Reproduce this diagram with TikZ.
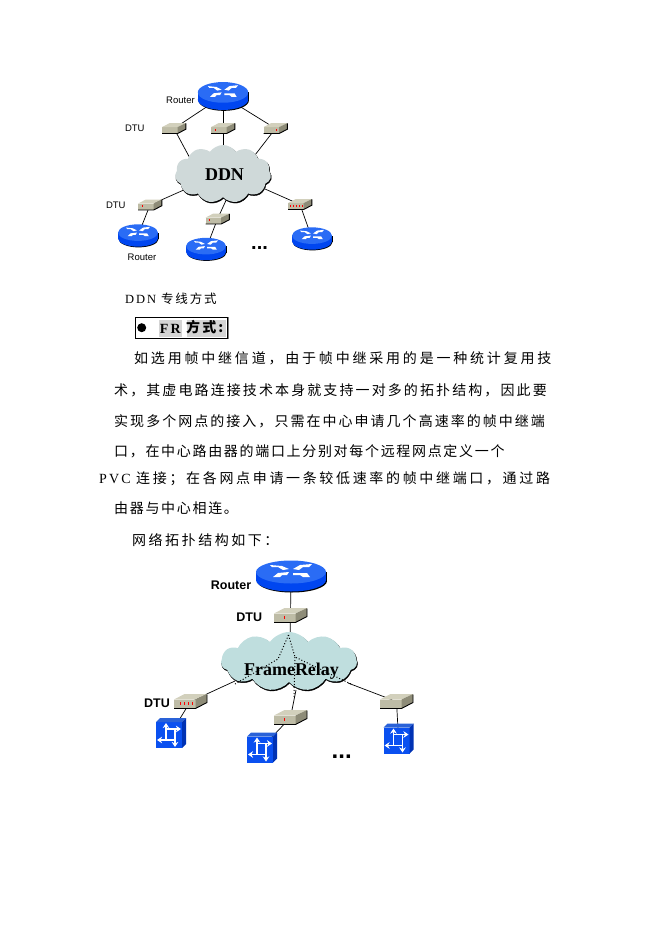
\documentclass[tikz,border=0pt]{standalone}
\usepackage{fontspec}
\setmainfont{Liberation Serif}
\setsansfont{Liberation Sans}
\newfontfamily\cjk[LetterSpace=15]{Noto Sans CJK SC}
\newfontfamily\spaced[LetterSpace=15]{Liberation Serif}
\usetikzlibrary{positioning, shapes.symbols, shadows, arrows.meta}
\newcommand{\dou}{^^^^ff0c}
\newcommand{\fen}{^^^^ff1b}
\newcommand{\mao}{^^^^ff1a}
\definecolor{routertop}{HTML}{2A6CF5}
\definecolor{routerside}{HTML}{0046F0}
\definecolor{dtutop}{HTML}{D2D0BC}
\definecolor{dtufront}{HTML}{BEBCA6}
\definecolor{dtuside}{HTML}{8E8C78}
\definecolor{ddncloud}{HTML}{CFD9D9}
\definecolor{frcloud}{HTML}{BFDEDE}
\definecolor{switchfront}{HTML}{0A50F0}
\definecolor{switchtop}{HTML}{2A62D8}
\definecolor{switchside}{HTML}{0032B4}
\tikzset{
	device/.style={inner sep=0pt,minimum size=8pt},
	wire/.style={black,line width=0.7pt},
	netcloud/.style={cloud,cloud puffs=11,cloud puff arc=110,cloud ignores aspect,inner sep=0pt,
		copy shadow={shadow xshift=0.6pt,shadow yshift=-1.2pt,fill=black,draw=black}},
	small/.style={font=\sffamily\fontsize{9.5}{11}\selectfont,inner sep=0pt},
	big/.style={font=\sffamily\bfseries\fontsize{12.5}{14}\selectfont,inner sep=0pt},
	textline/.style={anchor=west,inner sep=0pt,font=\fontsize{14}{16}\selectfont},
	router/.pic={
		\fill[black] (1,5) ellipse [x radius=35pt,y radius=11.5pt];
		\fill[black] (-34,-4) rectangle (36,5);
		\fill[routerside] (0,4) ellipse [x radius=35pt,y radius=11.5pt];
		\fill[routerside] (-35,-4) rectangle (35,4);
		\fill[routertop] (0,-4) ellipse [x radius=35pt,y radius=11.5pt];
		\fill[white] (-21,-11) -- (-9,-10) -- (-2,-7) -- (-8,-6) -- (-13,-9) -- (-19,-9) -- cycle;
		\fill[white] (2,-7) -- (9,-11) -- (21,-12) -- (18,-9) -- (12,-9) -- (8,-6) -- cycle;
		\fill[white] (-18,1) -- (-13,-3) -- (-2,-4) -- (-4,-1) -- (-9,-1) -- (-11,1) -- cycle;
		\fill[white] (2,-3) -- (16,-3) -- (19,1) -- (12,1) -- (9,-1) -- (2,-1) -- cycle;
	},
	dtu/.pic={
		\fill[dtufront] (-16.5,-2) rectangle (5,7);
		\fill[dtutop] (-16.5,-2) -- (-6,-7.5) -- (16.5,-7.5) -- (5,-2) -- cycle;
		\fill[dtuside] (5,-2) -- (16.5,-7.5) -- (16.5,1) -- (5,7) -- cycle;
		\draw[black,line width=0.9pt] (-16.5,7) -- (5,7) -- (16.5,1) -- (16.5,-7);
	},
	pics/leds/.style={code={
		\foreach \lx in {#1}
			\fill[red] (\lx-0.7,0.4) rectangle (\lx+0.7,3);
	}},
	switchbox/.pic={
		\fill[switchfront] (-15,-11) rectangle (11,15);
		\fill[switchtop] (-15,-11) -- (-11,-15) -- (15,-15) -- (11,-11) -- cycle;
		\fill[switchside] (11,-11) -- (15,-15) -- (15,11) -- (11,15) -- cycle;
		\begin{scope}[white,line width=1.5pt,-{Stealth[length=5pt,width=6.5pt]}]
			\draw (-5,7) -- (-5,-10);
			\draw (-5,-4) -- (10,-4);
			\draw (4,7) -- (-14,7);
			\draw (4,-4) -- (4,14);
		\end{scope}
	}
}
\begin{document}
\begin{tikzpicture}[x=1pt,y=-1pt]
	\useasboundingbox (0,0) rectangle (662,936);
	% DDN
	\node (r0) at (223,96)[device]{};
	\node (d1) at (174,128.5)[device]{};
	\node (d2) at (223,128.5)[device]{};
	\node (d3) at (275.5,128.5)[device]{};
	\node (d4) at (150,205)[device]{};
	\node (d5) at (217.5,219)[device]{};
	\node (d6) at (300,204.5)[device]{};
	\node (r1) at (138,235.5)[device]{};
	\node (r2) at (206,249)[device]{};
	\node (r3) at (312,238.5)[device]{};
	\coordinate (c1) at (192,162);
	\coordinate (c2) at (223,152);
	\coordinate (c3) at (255,155);
	\coordinate (c4) at (186,189);
	\coordinate (c5) at (228,196);
	\coordinate (c6) at (265,189);
	\draw[wire] (d1) -- (r0) -- (d3);
	\draw[wire] (r0) -- (d2) -- (c2);
	\draw[wire] (d1) -- (c1);
	\draw[wire] (d3) -- (c3);
	\draw[wire] (c4) -- (d4) -- (r1);
	\draw[wire] (c5) -- (d5) -- (r2);
	\draw[wire] (c6) -- (d6) -- (r3);
	\node (ddn) at (223,174)[netcloud,fill=ddncloud,minimum width=96pt,minimum height=58pt]{};
	\pic[xscale=.72,yscale=.9] at (r0) {router};
	\foreach \r in {r1,r2,r3}
		\pic[xscale=.57,yscale=.72] at (\r) {router};
	\foreach \d in {d1,d2,d3,d4,d5,d6}
		\pic[scale=.72] at (\d) {dtu};
	\pic[scale=.72] at (d2) {leds={-11}};
	\pic[scale=.72] at (d3) {leds={2}};
	\pic[scale=.72] at (d4) {leds={-11}};
	\pic[scale=.72] at (d5) {leds={-11}};
	\pic[scale=.72] at (d6) {leds={-13,-9,-5,-1,3}};
	\node (ddnname) at (224.5,175)[font=\bfseries\fontsize{18}{20}\selectfont,inner sep=0pt]{DDN};
	\node (lr0) at (180.5,100.5)[small]{Router};
	\node (ld1)[small,left=25pt of d1]{DTU};
	\node (ld4)[small,left=20pt of d4]{DTU};
	\node (lr1) at (142,257.5)[small]{Router};
	\node (more1) at (251,249.5)[anchor=base west,inner sep=0pt,font=\sffamily\bfseries\fontsize{20}{22}\selectfont]{...};
	% text
	\node (cap) at (125,298.5)[textline,font=\fontsize{12.5}{14}\selectfont]{\spaced DDN \cjk 专线方式};
	\node (frbox) at (181.5,327.5)[draw=black,fill=white,line width=0.8pt,minimum width=92.5pt,minimum height=21pt,inner sep=0pt,
		copy shadow={shadow xshift=0.5pt,shadow yshift=-0.5pt,fill=gray,draw=gray}]{};
	\node (frgrey1) at (170.3,328)[fill=black!17,minimum width=23pt,minimum height=17pt,inner sep=0pt]{};
	\node (frgrey2) at (206,328)[fill=black!17,minimum width=39pt,minimum height=17pt,inner sep=0pt]{};
	\node (frdot) at (141.7,327.7)[circle,fill=black,minimum size=9pt,inner sep=0pt]{};
	\node (frname) at (170.3,328.5)[inner sep=0pt,font=\bfseries\fontsize{14}{16}\selectfont]{\spaced FR};
	\node (frway) at (186,327)[textline]{\cjk\bfseries 方式:};
	\foreach \i/\x/\y/\sp/\txt in {
		1/134/358/20/{如选用帧中继信道\dou 由于帧中继采用的是一种统计复用技},
		2/114/390/15/{术\dou 其虚电路连接技术本身就支持一对多的拓扑结构\dou 因此要},
		3/114/421/14.5/{实现多个网点的接入\dou 只需在中心申请几个高速率的帧中继端},
		4/114/451/12/{口\dou 在中心路由器的端口上分别对每个远程网点定义一个},
		5/99/479/19/{\spaced PVC \cjk\addfontfeature{LetterSpace=19} 连接\fen 在各网点申请一条较低速率的帧中继端口\dou 通过路},
		6/114/508/12/{由器与中心相连。},
		7/132/540/18/{网络拓扑结构如下\mao}}
		\node (line\i) at (\x,\y)[textline]{\cjk\addfontfeature{LetterSpace=\sp}\txt};
	% FrameRelay
	\node (r4) at (291,576)[device]{};
	\node (d7) at (290.5,615.5)[device]{};
	\node (d8) at (190.5,701.5)[device]{};
	\node (d9) at (290.5,717.5)[device]{};
	\node (d10) at (396.5,701.5)[device]{};
	\node (s1) at (171,733)[device]{};
	\node (s2) at (262,747.5)[device]{};
	\node (s3) at (398.5,738.5)[device]{};
	\coordinate (c7) at (290,640);
	\coordinate (c8) at (235,681);
	\coordinate (c9) at (296,690);
	\coordinate (c10) at (348,683);
	\draw[wire] (r4) -- (d7) -- (c7);
	\draw[wire] (c8) -- (d8) -- (s1);
	\draw[wire] (c9) -- (d9) -- (s2);
	\draw[wire] (c10) -- (d10) -- (s3);
	\node (fr) at (289,661.5)[netcloud,fill=frcloud,minimum width=136pt,minimum height=59pt]{};
	\coordinate (f0) at (288.5,635);
	\coordinate (f1) at (278,659);
	\coordinate (f2) at (235,684);
	\coordinate (f3) at (295,657);
	\coordinate (f4) at (351,684);
	\coordinate (f5) at (294,697);
	\draw[black,line width=1pt,dotted] (f0) -- (f1) -- (f2);
	\draw[black,line width=1pt,dotted] (f0) -- (f3) -- (f4);
	\draw[black,line width=1pt,dotted] (f3) -- (f5);
	\pic at (r4) {router};
	\foreach \d in {d7,d8,d9,d10}
		\pic at (\d) {dtu};
	\pic at (d7) {leds={-6}};
	\pic at (d8) {leds={-10,-6,-2,2}};
	\pic at (d9) {leds={-6}};
	\foreach \s in {s1,s2,s3}
		\pic at (\s) {switchbox};
	\node (frname2) at (291.5,671)[font=\bfseries\fontsize{18}{20}\selectfont,inner sep=0pt]{FrameRelay};
	\node (lr4) at (231,585)[big]{Router};
	\node (ld7)[big,left=24pt of d7,yshift=-1.5pt]{DTU};
	\node (ld8) at (157,703)[big]{DTU};
	\node (more2) at (331.5,758)[anchor=base west,inner sep=0pt,font=\sffamily\bfseries\fontsize{24}{26}\selectfont]{...};
\end{tikzpicture}
\end{document}
